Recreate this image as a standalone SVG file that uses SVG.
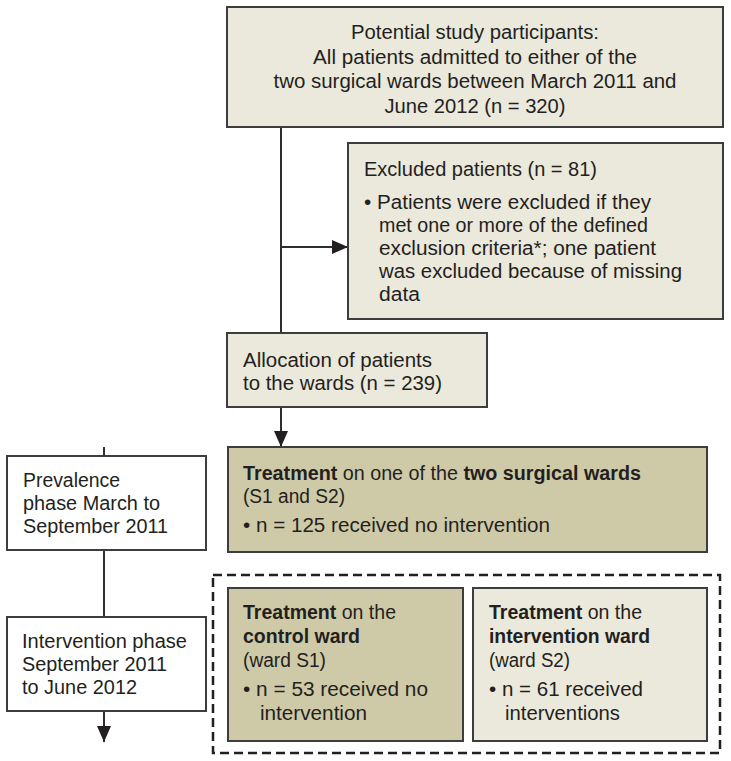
<svg xmlns="http://www.w3.org/2000/svg" width="731" height="761" viewBox="0 0 731 761">
<style>
text{font-family:"Liberation Sans",Arial,sans-serif;font-size:20px;fill:#231f20;}
.m{text-anchor:middle;}
.b{font-weight:bold;}
.light{fill:#ebe8dc;stroke:#3d3d3d;stroke-width:2;}
.dark{fill:#cecaa8;stroke:#3d3d3d;stroke-width:2;}
.white{fill:#ffffff;stroke:#3d3d3d;stroke-width:2;}
.conn{fill:none;stroke:#2e2e2e;stroke-width:2;}
.dash{fill:none;stroke:#231f20;stroke-width:2.5;stroke-dasharray:9 5;}
</style>
<defs>
<marker id="ah" viewBox="0 0 16 14" refX="16" refY="7" markerWidth="16" markerHeight="14" markerUnits="userSpaceOnUse" orient="auto">
<path d="M0,0 L16,7 L0,14 Z" fill="#231f20"/>
</marker>
</defs>
<rect x="0" y="0" width="731" height="761" fill="#ffffff"/>

<g id="connectors">
<path class="conn" d="M281,127 V333"/>
<path class="conn" d="M281,247 H348" marker-end="url(#ah)"/>
<path class="conn" d="M281,407 V447" marker-end="url(#ah)"/>
<path class="conn" d="M104,447 V456"/>
<path class="conn" d="M104,550 V617"/>
<path class="conn" d="M104,711 V742" marker-end="url(#ah)"/>
</g>

<g id="potential">
<rect class="light" x="227" y="7" width="496" height="120"/>
<text class="m" x="475" y="39" textLength="248" lengthAdjust="spacingAndGlyphs">Potential study participants:</text>
<text class="m" x="475" y="64" textLength="324" lengthAdjust="spacingAndGlyphs">All patients admitted to either of the</text>
<text class="m" x="475" y="88" textLength="403" lengthAdjust="spacingAndGlyphs">two surgical wards between March 2011 and</text>
<text class="m" x="475" y="113" textLength="181" lengthAdjust="spacingAndGlyphs">June 2012 (n = 320)</text>
</g>

<g id="excluded">
<rect class="light" x="348" y="143" width="375" height="176"/>
<text x="364" y="176" textLength="233" lengthAdjust="spacingAndGlyphs">Excluded patients (n = 81)</text>
<text x="364" y="209" textLength="287" lengthAdjust="spacingAndGlyphs">• Patients were excluded if they</text>
<text x="379" y="232" textLength="269" lengthAdjust="spacingAndGlyphs">met one or more of the defined</text>
<text x="379" y="255" textLength="277" lengthAdjust="spacingAndGlyphs">exclusion criteria*; one patient</text>
<text x="379" y="278" textLength="303" lengthAdjust="spacingAndGlyphs">was excluded because of missing</text>
<text x="379" y="301" textLength="41" lengthAdjust="spacingAndGlyphs">data</text>
</g>

<g id="allocation">
<rect class="light" x="227" y="333" width="260" height="74"/>
<text x="243" y="367" textLength="189" lengthAdjust="spacingAndGlyphs">Allocation of patients</text>
<text x="243" y="390" textLength="199" lengthAdjust="spacingAndGlyphs">to the wards (n = 239)</text>
</g>

<g id="prevalence">
<rect class="white" x="7" y="456" width="199" height="94"/>
<text x="23" y="487" textLength="97" lengthAdjust="spacingAndGlyphs">Prevalence</text>
<text x="23" y="510" textLength="137" lengthAdjust="spacingAndGlyphs">phase March to</text>
<text x="23" y="533" textLength="145" lengthAdjust="spacingAndGlyphs">September 2011</text>
</g>

<g id="treatment">
<rect class="dark" x="228" y="447" width="479" height="105"/>
<text x="243" y="480" textLength="398" lengthAdjust="spacingAndGlyphs"><tspan class="b">Treatment</tspan> on one of the <tspan class="b">two surgical wards</tspan></text>
<text x="243" y="503" textLength="102" lengthAdjust="spacingAndGlyphs">(S1 and S2)</text>
<text x="243" y="532" textLength="307" lengthAdjust="spacingAndGlyphs">• n = 125 received no intervention</text>
</g>

<g id="intervention-phase">
<rect class="white" x="7" y="617" width="199" height="94"/>
<text x="22" y="648" textLength="165" lengthAdjust="spacingAndGlyphs">Intervention phase</text>
<text x="22" y="671" textLength="145" lengthAdjust="spacingAndGlyphs">September 2011</text>
<text x="22" y="694" textLength="115" lengthAdjust="spacingAndGlyphs">to June 2012</text>
</g>

<g id="phase-group">
<rect class="dash" x="213" y="575" width="507" height="178"/>
</g>

<g id="control-ward">
<rect class="dark" x="228" y="588" width="235" height="153"/>
<text x="243" y="619" textLength="153" lengthAdjust="spacingAndGlyphs"><tspan class="b">Treatment</tspan> on the</text>
<text x="243" y="643" textLength="117" lengthAdjust="spacingAndGlyphs" class="b">control ward</text>
<text x="243" y="667" textLength="83" lengthAdjust="spacingAndGlyphs">(ward S1)</text>
<text x="243" y="696" textLength="185" lengthAdjust="spacingAndGlyphs">• n = 53 received no</text>
<text x="260" y="720" textLength="107" lengthAdjust="spacingAndGlyphs">intervention</text>
</g>

<g id="intervention-ward">
<rect class="light" x="473" y="588" width="234" height="153"/>
<text x="489" y="619" textLength="153" lengthAdjust="spacingAndGlyphs"><tspan class="b">Treatment</tspan> on the</text>
<text x="489" y="643" textLength="161" lengthAdjust="spacingAndGlyphs" class="b">intervention ward</text>
<text x="489" y="667" textLength="81" lengthAdjust="spacingAndGlyphs">(ward S2)</text>
<text x="489" y="696" textLength="154" lengthAdjust="spacingAndGlyphs">• n = 61 received</text>
<text x="505" y="720" textLength="115" lengthAdjust="spacingAndGlyphs">interventions</text>
</g>
</svg>
